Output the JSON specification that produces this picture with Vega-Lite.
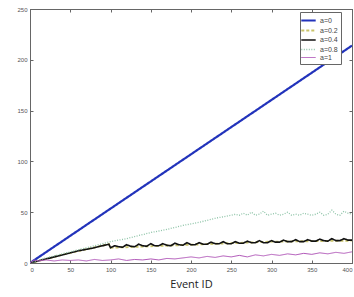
{
  "$schema": "https://vega.github.io/schema/vega-lite/v6.json",
  "width": 322,
  "height": 254,
  "autosize": {"type": "none"},
  "padding": {"left": 30, "top": 9, "right": 2, "bottom": 34},
  "background": "white",
  "config": {
    "view": {"stroke": "#666", "strokeWidth": 1},
    "axis": {"grid": false, "domainColor": "#666", "tickColor": "#666", "labelColor": "#555", "labelFontSize": 6, "labelFont": "Liberation Sans", "tickSize": -3, "labelPadding": 6},
    "legend": {"fillColor": "white", "strokeColor": "#666", "padding": 3, "labelFontSize": 7, "labelFont": "Liberation Sans", "labelColor": "#444", "rowPadding": 0.5, "symbolSize": 64, "symbolType": "M-1.8,0L1.8,0", "symbolStrokeWidth": 1.2, "labelOffset": 6, "labelLimit": 40}
  },
  "data": {"values": [
    {"s":"a=0","e":0,"v":0},{"s":"a=0","e":100,"v":53.5},{"s":"a=0","e":200,"v":107},{"s":"a=0","e":300,"v":160.5},{"s":"a=0","e":400,"v":214},
    {"s":"a=0.2","e":0,"v":0},{"s":"a=0.2","e":50,"v":10},{"s":"a=0.2","e":98,"v":18.5},{"s":"a=0.2","e":100,"v":15},{"s":"a=0.2","e":200,"v":18},{"s":"a=0.2","e":300,"v":21},{"s":"a=0.2","e":400,"v":22},
    {"s":"a=0.4","e":0,"v":0},{"s":"a=0.4","e":10,"v":2},{"s":"a=0.4","e":20,"v":4},{"s":"a=0.4","e":30,"v":6},{"s":"a=0.4","e":40,"v":8},{"s":"a=0.4","e":50,"v":10},{"s":"a=0.4","e":60,"v":12},{"s":"a=0.4","e":70,"v":13.5},{"s":"a=0.4","e":80,"v":15},{"s":"a=0.4","e":90,"v":17},{"s":"a=0.4","e":98,"v":18.5},{"s":"a=0.4","e":100,"v":15},
    {"s":"a=0.4","e":105,"v":17},{"s":"a=0.4","e":110,"v":16},{"s":"a=0.4","e":115,"v":15.5},{"s":"a=0.4","e":120,"v":18},{"s":"a=0.4","e":125,"v":16.5},{"s":"a=0.4","e":130,"v":16},{"s":"a=0.4","e":135,"v":18.5},{"s":"a=0.4","e":140,"v":17},{"s":"a=0.4","e":145,"v":16.5},{"s":"a=0.4","e":150,"v":19},{"s":"a=0.4","e":155,"v":17},{"s":"a=0.4","e":160,"v":17},{"s":"a=0.4","e":165,"v":19},{"s":"a=0.4","e":170,"v":17.5},{"s":"a=0.4","e":175,"v":17},{"s":"a=0.4","e":180,"v":19.5},{"s":"a=0.4","e":185,"v":18},{"s":"a=0.4","e":190,"v":17.5},{"s":"a=0.4","e":195,"v":20},{"s":"a=0.4","e":200,"v":18},{"s":"a=0.4","e":205,"v":18},{"s":"a=0.4","e":210,"v":20},{"s":"a=0.4","e":215,"v":18.5},{"s":"a=0.4","e":220,"v":18.5},{"s":"a=0.4","e":225,"v":20.5},{"s":"a=0.4","e":230,"v":19},{"s":"a=0.4","e":235,"v":19},{"s":"a=0.4","e":240,"v":21},{"s":"a=0.4","e":245,"v":19},{"s":"a=0.4","e":250,"v":19},{"s":"a=0.4","e":255,"v":21},{"s":"a=0.4","e":260,"v":19.5},{"s":"a=0.4","e":265,"v":19.5},{"s":"a=0.4","e":270,"v":21.5},{"s":"a=0.4","e":275,"v":20},{"s":"a=0.4","e":280,"v":20},{"s":"a=0.4","e":285,"v":22},{"s":"a=0.4","e":290,"v":20},{"s":"a=0.4","e":295,"v":20},{"s":"a=0.4","e":300,"v":22},{"s":"a=0.4","e":305,"v":20.5},{"s":"a=0.4","e":310,"v":20.5},{"s":"a=0.4","e":315,"v":22.5},{"s":"a=0.4","e":320,"v":21},{"s":"a=0.4","e":325,"v":21},{"s":"a=0.4","e":330,"v":23},{"s":"a=0.4","e":335,"v":21},{"s":"a=0.4","e":340,"v":21},{"s":"a=0.4","e":345,"v":23},{"s":"a=0.4","e":350,"v":21.5},{"s":"a=0.4","e":355,"v":21.5},{"s":"a=0.4","e":360,"v":23.5},{"s":"a=0.4","e":365,"v":22},{"s":"a=0.4","e":370,"v":21.5},{"s":"a=0.4","e":375,"v":24},{"s":"a=0.4","e":380,"v":22},{"s":"a=0.4","e":385,"v":22},{"s":"a=0.4","e":390,"v":24},{"s":"a=0.4","e":395,"v":22.5},{"s":"a=0.4","e":400,"v":22.5},
    {"s":"a=0.8","e":0,"v":0},{"s":"a=0.8","e":10,"v":2.5},{"s":"a=0.8","e":20,"v":5},{"s":"a=0.8","e":30,"v":7},{"s":"a=0.8","e":40,"v":9},{"s":"a=0.8","e":50,"v":11},{"s":"a=0.8","e":60,"v":13},{"s":"a=0.8","e":70,"v":15},{"s":"a=0.8","e":80,"v":17},{"s":"a=0.8","e":90,"v":19},{"s":"a=0.8","e":100,"v":21},{"s":"a=0.8","e":110,"v":22.5},{"s":"a=0.8","e":120,"v":24},{"s":"a=0.8","e":130,"v":26},{"s":"a=0.8","e":140,"v":28},{"s":"a=0.8","e":150,"v":30},{"s":"a=0.8","e":160,"v":31.5},{"s":"a=0.8","e":170,"v":33},{"s":"a=0.8","e":180,"v":35},{"s":"a=0.8","e":190,"v":37},{"s":"a=0.8","e":200,"v":38.5},{"s":"a=0.8","e":210,"v":40},{"s":"a=0.8","e":220,"v":42},{"s":"a=0.8","e":230,"v":44},{"s":"a=0.8","e":240,"v":45.5},{"s":"a=0.8","e":250,"v":47},{"s":"a=0.8","e":255,"v":48},{"s":"a=0.8","e":260,"v":47},{"s":"a=0.8","e":265,"v":49},{"s":"a=0.8","e":270,"v":47},{"s":"a=0.8","e":275,"v":50},{"s":"a=0.8","e":280,"v":47},{"s":"a=0.8","e":285,"v":48},{"s":"a=0.8","e":290,"v":51},{"s":"a=0.8","e":295,"v":47},{"s":"a=0.8","e":300,"v":48},{"s":"a=0.8","e":305,"v":49},{"s":"a=0.8","e":310,"v":47},{"s":"a=0.8","e":315,"v":48},{"s":"a=0.8","e":320,"v":50},{"s":"a=0.8","e":325,"v":47},{"s":"a=0.8","e":330,"v":48},{"s":"a=0.8","e":335,"v":47},{"s":"a=0.8","e":340,"v":49},{"s":"a=0.8","e":345,"v":48},{"s":"a=0.8","e":350,"v":47},{"s":"a=0.8","e":355,"v":48},{"s":"a=0.8","e":360,"v":50},{"s":"a=0.8","e":365,"v":47},{"s":"a=0.8","e":370,"v":48},{"s":"a=0.8","e":375,"v":52},{"s":"a=0.8","e":380,"v":48},{"s":"a=0.8","e":385,"v":47},{"s":"a=0.8","e":390,"v":51},{"s":"a=0.8","e":395,"v":49},{"s":"a=0.8","e":400,"v":48},
    {"s":"a=1","e":0,"v":0},{"s":"a=1","e":5,"v":3},{"s":"a=1","e":10,"v":2},{"s":"a=1","e":20,"v":3},{"s":"a=1","e":30,"v":2},{"s":"a=1","e":40,"v":3},{"s":"a=1","e":50,"v":2.5},{"s":"a=1","e":60,"v":3},{"s":"a=1","e":70,"v":2},{"s":"a=1","e":80,"v":3.5},{"s":"a=1","e":90,"v":2.5},{"s":"a=1","e":100,"v":3},{"s":"a=1","e":110,"v":4},{"s":"a=1","e":120,"v":2.5},{"s":"a=1","e":130,"v":3.5},{"s":"a=1","e":140,"v":3},{"s":"a=1","e":150,"v":4},{"s":"a=1","e":160,"v":3},{"s":"a=1","e":170,"v":4.5},{"s":"a=1","e":180,"v":4},{"s":"a=1","e":190,"v":5},{"s":"a=1","e":200,"v":6},{"s":"a=1","e":210,"v":5},{"s":"a=1","e":220,"v":6.5},{"s":"a=1","e":230,"v":5.5},{"s":"a=1","e":240,"v":7},{"s":"a=1","e":250,"v":6},{"s":"a=1","e":260,"v":7.5},{"s":"a=1","e":270,"v":6},{"s":"a=1","e":280,"v":8},{"s":"a=1","e":290,"v":7},{"s":"a=1","e":300,"v":8.5},{"s":"a=1","e":310,"v":7.5},{"s":"a=1","e":320,"v":9},{"s":"a=1","e":330,"v":8},{"s":"a=1","e":340,"v":9.5},{"s":"a=1","e":350,"v":8.5},{"s":"a=1","e":360,"v":10},{"s":"a=1","e":370,"v":9},{"s":"a=1","e":380,"v":10.5},{"s":"a=1","e":390,"v":9.5},{"s":"a=1","e":400,"v":11}
  ]},
  "layer": [
    {
      "mark": {"type": "line", "clip": true},
      "encoding": {
        "x": {"field": "e", "type": "quantitative", "scale": {"domain": [0, 400], "nice": false}, "axis": {"values": [0,50,100,150,200,250,300,350,400], "title": "Event ID", "titleFont": "Open Sans", "titleFontSize": 11, "titleFontWeight": "normal", "titleColor": "#222", "titlePadding": 6}},
        "y": {"field": "v", "type": "quantitative", "scale": {"domain": [0, 250], "nice": false}, "axis": {"values": [0,50,100,150,200,250], "title": null}},
        "color": {"field": "s", "type": "nominal", "title": null, "legend": {"orient": "none", "legendX": 270, "legendY": 3, "title": null}, "scale": {"domain": ["a=0","a=0.2","a=0.4","a=0.8","a=1"], "range": ["#2233bb","#c9c36a","#111111","#8fc4a8","#b055b8"]}},
        "strokeDash": {"field": "s", "type": "nominal", "title": null, "legend": {"orient": "none", "legendX": 270, "legendY": 3, "title": null}, "scale": {"domain": ["a=0","a=0.2","a=0.4","a=0.8","a=1"], "range": [[1,0],[3,2],[1,0],[1,1.5],[1,0]]}},
        "strokeWidth": {"field": "s", "type": "nominal", "legend": null, "scale": {"domain": ["a=0","a=0.2","a=0.4","a=0.8","a=1"], "range": [2.2,1,2.4,1,1]}}
      }
    },
    {
      "mark": {"type": "point", "opacity": 0},
      "encoding": {
        "x": {"field": "e", "type": "quantitative", "scale": {"domain": [0, 400], "nice": false}, "axis": {"orient": "top", "values": [0,50,100,150,200,250,300,350,400], "labels": false, "title": null}},
        "y": {"field": "v", "type": "quantitative", "scale": {"domain": [0, 250], "nice": false}, "axis": {"orient": "right", "values": [0,50,100,150,200,250], "labels": false, "title": null}}
      }
    }
  ],
  "resolve": {"axis": {"x": "independent", "y": "independent"}}
}
